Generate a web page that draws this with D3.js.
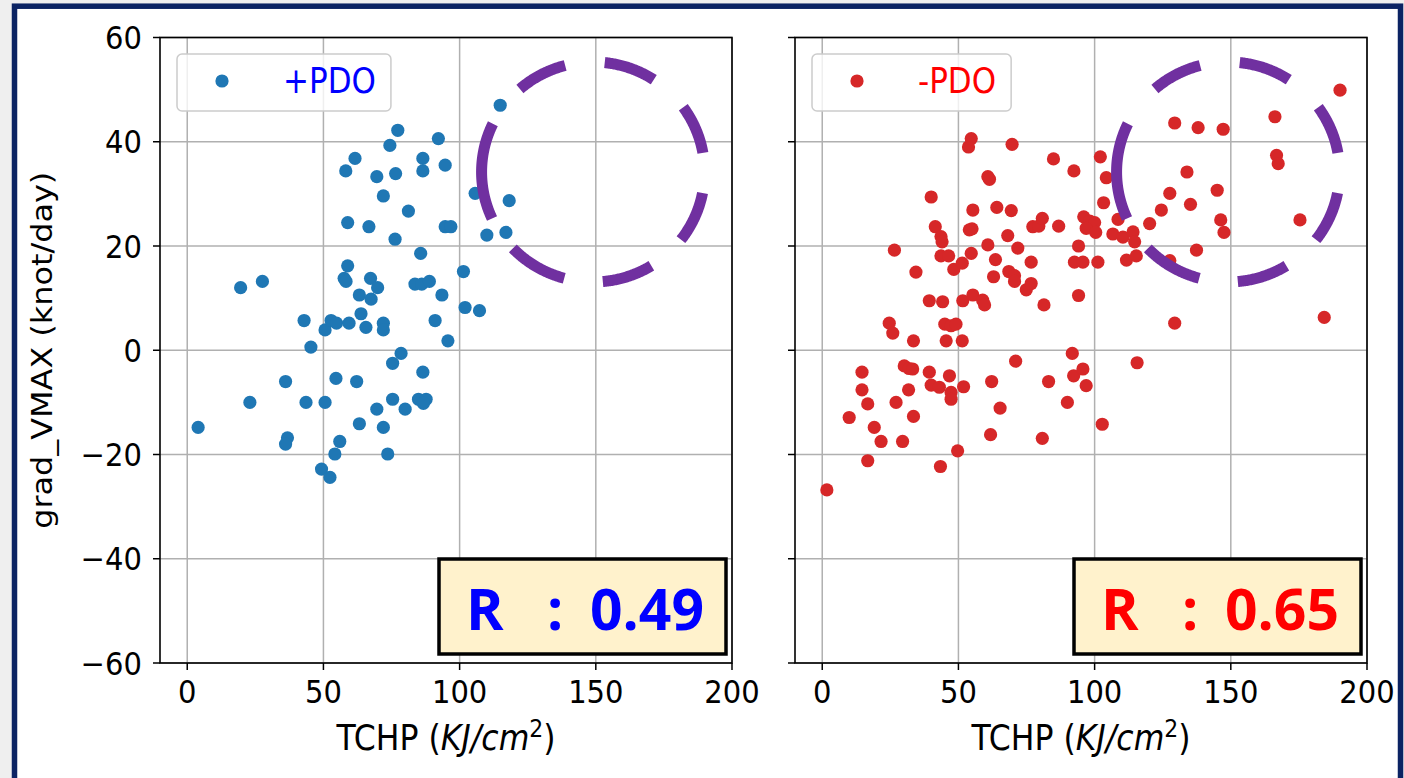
<!DOCTYPE html>
<html><head><meta charset="utf-8">
<script src="https://cdn.jsdelivr.net/npm/d3@7"></script>
<style>
html,body{margin:0;padding:0;background:#efefef;overflow:hidden;}
svg{display:block;font-family:"DejaVu Sans",sans-serif;}
</style>
</head><body><svg id="chart" width="1404" height="778"></svg>
<script>
// ---------------- data ----------------
const seriesNames = ["+PDO", "-PDO"];
const rValues = ["0.49", "0.65"];
const xTickValues = [0, 50, 100, 150, 200];
const yTickValues = [-60, -40, -20, 0, 20, 40, 60];
const xLabel = "TCHP";
const yLabel = "grad_VMAX (knot/day)";
// [TCHP, grad_VMAX]
const plusPDO = [
 [4,-14.8],[19.6,12],[23,-10],[27.6,13.2],[36.1,-6],[36.8,-16.8],[36.1,-18],[42.9,5.7],[43.6,-10],[45.4,0.6],
 [49.3,-22.8],[50.6,3.9],[50.6,-10],[52.4,-24.4],[52.8,5.7],[54.8,5.2],[54.6,-5.4],[54.2,-19.9],[56,-17.5],[57.6,13.8],
 [58.3,13.2],[58.9,16.2],[58.2,34.4],[58.9,24.5],[59.4,5.2],[61.6,36.8],[62.2,-6],[63.2,10.6],[63.8,7],[63.2,-14.1],
 [65.6,4.4],[66.7,23.7],[67.3,13.8],[67.5,9.8],[69.6,33.3],[69.9,12],[69.6,-11.3],[72,29.6],[72,5.2],[72,3.9],
 [72,-14.8],[73.6,-19.9],[74.4,39.3],[75.4,-2.5],[75.4,-9.4],[76.3,21.3],[76.5,33.9],[77.3,42.2],[78.5,-0.6],[80,-11.3],
 [81.2,26.7],[83.6,12.7],[84.9,-9.4],[86.1,12.7],[85.7,18.6],[86.5,36.8],[86.5,34.4],[86.5,-4.2],[87.7,-9.4],[86.7,-10.2],
 [88.9,13.2],[91,5.7],[92.2,40.6],[93.5,10.6],[94.7,35.5],[94.7,23.7],[96.8,23.7],[95.7,1.8],[101.4,15.1],[102,8.2],
 [105.7,30.1],[107.3,7.6],[110,22.1],[114.9,47],[117,22.6],[118.2,28.7]
];
const minusPDO = [
 [1.7,-26.8],[9.9,-12.9],[14.6,-4.2],[14.6,-7.6],[16.7,-10.3],[16.7,-21.2],[19.1,-14.8],[21.6,-17.5],[24.6,5.2],[25.9,3.3],
 [26.5,19.2],[27.1,-10],[29.5,-17.5],[30.1,-3],[31.9,-3.5],[33.2,-3.6],[31.7,-7.6],[33.5,1.8],[33.5,-12.7],[34.4,15],
 [39.3,9.5],[39.3,-4.2],[40,29.4],[40,-6.7],[41.5,23.7],[43,-7.1],[43.4,-22.3],[43.6,21.8],[44,20.8],[43.6,18.1],
 [44.2,9.3],[45,5],[45.5,1.8],[46.4,18.1],[46.7,-4.9],[47.3,4.7],[47.3,-8.1],[47.3,-9.4],[48.3,15.5],[49.1,5],
 [49.7,-19.3],[51.4,16.7],[51.4,1.8],[51.6,9.5],[51.9,-7],[53.7,39],[54.7,40.6],[54,23.1],[55,23.3],[54.7,18.6],
 [55.3,26.9],[55.3,10.6],[58.9,9.6],[59.6,8.7],[60.8,33.3],[61.4,32.8],[60.8,20.2],[62.9,14.1],[62.2,-6],[61.8,-16.2],
 [63.6,17.4],[64.1,27.4],[65.3,-11.1],[68.1,22],[68.5,15.1],[69.4,26.8],[69.7,39.5],[70.6,14.3],[70.6,13.2],[71,-2.1],
 [71.8,19.6],[74.9,11.6],[76.7,12.8],[76.7,16.9],[77.3,23.7],[79.5,23.8],[80.8,25.3],[80.8,-16.9],[81.4,8.7],[83.1,-6],
 [84.9,36.7],[86.8,23.8],[90,-10],[91.8,-0.6],[92.3,-4.9],[92.4,34.4],[92.6,16.9],[94.1,20],[94.1,10.5],[95.7,16.9],
 [95.7,-3.6],[96.9,-6.8],[96,25.6],[98.2,24.8],[100,24.5],[96.9,23.4],[100.4,22.6],[101.2,16.9],[102.1,37.1],[102.8,-14.2],
 [103.3,28.3],[104.3,33.1],[106.7,22.3],[108.6,25.1],[110.4,21.7],[111.7,17.3],[114.1,22.7],[114.7,20.8],[115.3,18.1],[115.6,-2.4],
 [120.2,24.3],[124.5,26.9],[127.6,30.1],[127.6,17.2],[129.4,43.6],[129.4,5.2],[133.9,34.2],[135.2,28],[137.4,19.2],[138,42.7],
 [145,30.7],[146.3,25],[147.2,42.4],[147.5,22.6],[166.2,44.8],[166.8,37.4],[167.4,35.8],[175.4,25],[184.3,6.3],[190.1,49.9]
];
const seriesData = [plusPDO, minusPDO];
const dotColors = ["#1f77b4", "#d62728"];
const textColors = ["#0000ff", "#ff0000"];
// annotation ellipse centre (data coords)
const highlightCenter = [149, 34.2];

// ---------------- layout ----------------
const svg = d3.select("#chart");
const panels = [{x0:160, x1:732}, {x0:795, x1:1367}];
const yTop = 37.5, yBot = 663;
const TS = 1.1; // vertical text stretch

// outer frame
svg.append("rect").attr("x",0).attr("y",0).attr("width",1404).attr("height",778).attr("fill","#efefef");
svg.append("rect").attr("x",14.5).attr("y",6.2).attr("width",1386).attr("height",820)
   .attr("fill","#ffffff").attr("stroke","#0b2363").attr("stroke-width",5.5);

function addText(g, x, y, s, o = {}) {
  const t = g.append("text")
    .attr("transform", `translate(${x},${y}) scale(${o.sx||1},${o.sy||TS})`)
    .attr("font-size", o.size || 29)
    .attr("text-anchor", o.anchor || "start")
    .attr("fill", o.fill || "#000")
    .text(s);
  if (o.weight) t.attr("font-weight", o.weight);
  if (o.family) t.attr("font-family", o.family);
  return t;
}

panels.forEach((p, i) => {
  const g = svg.append("g");
  const x = d3.scaleLinear().domain([-10, 200]).range([p.x0, p.x1]);
  const y = d3.scaleLinear().domain([-60, 60]).range([yBot, yTop]);
  const fmt = d3.format("d");

  // grid
  g.selectAll(".gx").data(xTickValues).join("line")
    .attr("x1", d => x(d)).attr("x2", d => x(d)).attr("y1", yTop).attr("y2", yBot)
    .attr("stroke", "#b0b0b0").attr("stroke-width", 1.5);
  g.selectAll(".gy").data(yTickValues).join("line")
    .attr("x1", p.x0).attr("x2", p.x1).attr("y1", d => y(d)).attr("y2", d => y(d))
    .attr("stroke", "#b0b0b0").attr("stroke-width", 1.5);

  // points
  const clipId = "clip" + i;
  svg.append("clipPath").attr("id", clipId).append("rect")
    .attr("x", p.x0).attr("y", yTop).attr("width", p.x1 - p.x0).attr("height", yBot - yTop);
  g.append("g").attr("clip-path", `url(#${clipId})`)
    .selectAll("circle").data(seriesData[i]).join("circle")
    .attr("cx", d => x(d[0])).attr("cy", d => y(d[1])).attr("r", 6.6)
    .attr("fill", dotColors[i]);

  // spines
  g.append("rect").attr("x", p.x0).attr("y", yTop).attr("width", p.x1 - p.x0).attr("height", yBot - yTop)
    .attr("fill", "none").attr("stroke", "#000").attr("stroke-width", 1.6);

  // ticks
  g.selectAll(".tx").data(xTickValues).join("line")
    .attr("x1", d => x(d)).attr("x2", d => x(d)).attr("y1", yBot).attr("y2", yBot + 7)
    .attr("stroke", "#000").attr("stroke-width", 1.5);
  g.selectAll(".ty").data(yTickValues).join("line")
    .attr("x1", p.x0 - 7).attr("x2", p.x0).attr("y1", d => y(d)).attr("y2", d => y(d))
    .attr("stroke", "#000").attr("stroke-width", 1.5);
  xTickValues.forEach(v => addText(g, x(v), 703, fmt(v), {anchor: "middle"}));
  if (i === 0) {
    yTickValues.forEach(v => addText(g, p.x0 - 18, y(v) + 11.6, fmt(v), {anchor: "end"}));
    g.append("text")
      .attr("transform", `translate(52,${(yTop + yBot) / 2}) rotate(-90) scale(1.1,1)`)
      .attr("font-size", 29).attr("text-anchor", "middle").text(yLabel);
  }
  // x label with math
  const xl = g.append("text")
    .attr("transform", `translate(${(p.x0 + p.x1) / 2},750) scale(1,${TS})`)
    .attr("font-size", 31.5).attr("text-anchor", "middle");
  xl.append("tspan").text(xLabel + " (");
  xl.append("tspan").attr("font-style", "italic").text("KJ/cm");
  xl.append("tspan").attr("font-size", 22).attr("dy", -12).text("2");
  xl.append("tspan").attr("dy", 12).text(")");

  // legend
  const lg = g.append("g");
  const lx = p.x0 + 17, ly = 54;
  const box = lg.append("rect").attr("x", lx).attr("y", ly).attr("height", 57).attr("rx", 5)
    .attr("fill", "#fff").attr("fill-opacity", 0.8).attr("stroke", "#cccccc").attr("stroke-width", 1.5);
  lg.append("circle").attr("cx", lx + 45).attr("cy", ly + 27).attr("r", 6.6).attr("fill", dotColors[i]);
  const lt = addText(lg, lx + 106, ly + 39, seriesNames[i], {size: 31, fill: textColors[i], sy: 1.12});
  const tw = lt.node().getComputedTextLength();
  box.attr("width", 106 + tw + 15);

  // highlight ellipse (dashed)
  const cx = x(highlightCenter[0]), cy = y(highlightCenter[1]);
  const rx = 111.5, ry = 110;
  const dashArcs = [[155,206],[229,255.5],[276,303],[324,350],[371,398],[418.5,445],[465,496]];
  dashArcs.forEach(([a0, a1]) => {
    const pts = d3.range(a0, a1 + 0.001, 0.5).map(a => {
      const r = a * Math.PI / 180;
      return [cx + rx * Math.cos(r), cy + ry * Math.sin(r)];
    });
    g.append("path").attr("d", d3.line()(pts)).attr("fill", "none")
      .attr("stroke", "#7030a0").attr("stroke-width", 11).attr("stroke-linecap", "butt");
  });

  // R box
  const bw = 287, bh = 95;
  const bx = p.x1 - 6 - bw, by = 559;
  g.append("rect").attr("x", bx).attr("y", by).attr("width", bw).attr("height", bh)
    .attr("fill", "#fff2cc").attr("stroke", "#000").attr("stroke-width", 3.5);
  const ro = {size: 57, weight: 700, family: "'Open Sans', sans-serif", fill: textColors[i], sy: 1};
  addText(g, bx + 27, 629.5, "R", ro);
  addText(g, bx + 116, 629.5, ":", Object.assign({}, ro, {anchor: "middle"}));
  addText(g, bx + bw - 22, 629.5, rValues[i], Object.assign({}, ro, {anchor: "end"}));
});
</script>
</body></html>
